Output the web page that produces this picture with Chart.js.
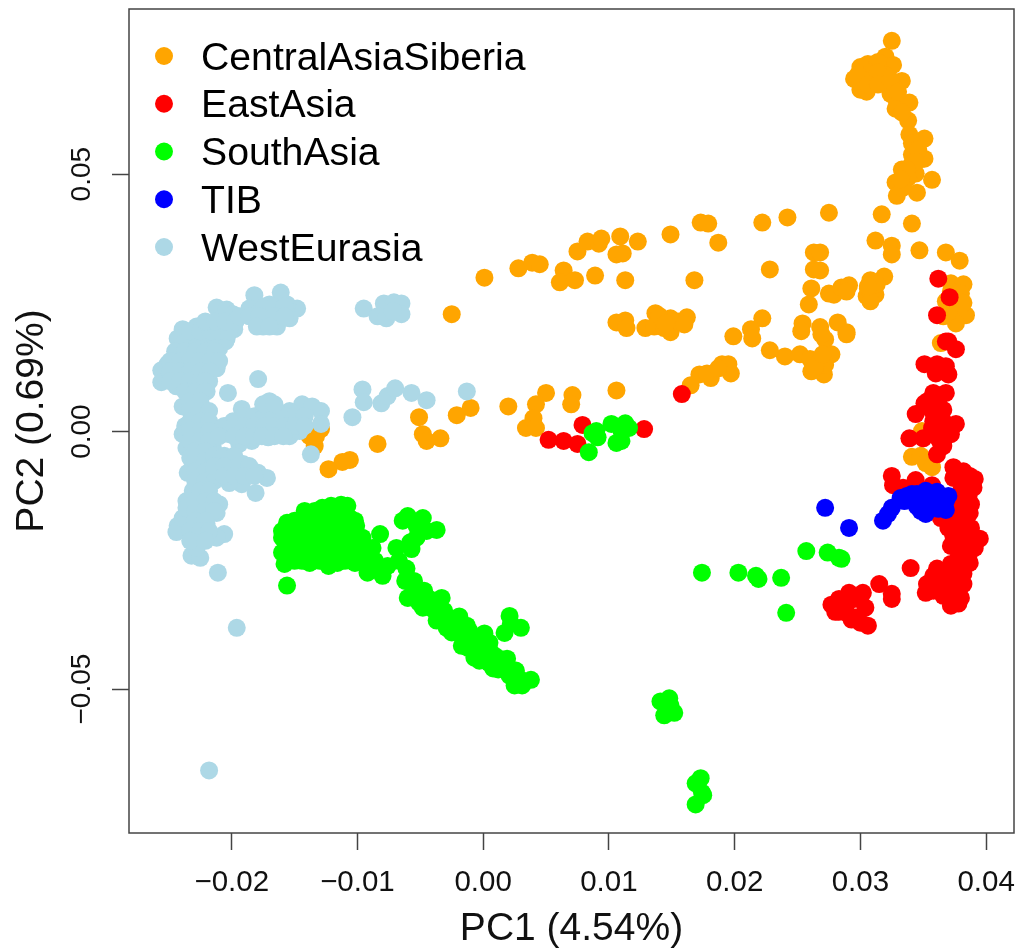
<!DOCTYPE html>
<html>
<head>
<meta charset="utf-8">
<style>
body { margin: 0; background: #fff; }
canvas { display: block; }
</style>
<script src="https://cdn.jsdelivr.net/npm/chart.js@4/dist/chart.umd.min.js"></script>
</head>
<body>
<canvas id="graph" width="1023" height="949"></canvas>
<script>
const groupNames = ['CentralAsiaSiberia', 'EastAsia', 'SouthAsia', 'TIB', 'WestEurasia'];
const groupColors = ['#FFA500', '#FF0000', '#00FF00', '#0000FF', '#ADD8E6'];

const xTicks = [-0.02, -0.01, 0, 0.01, 0.02, 0.03, 0.04];
const yTicks = [-0.05, 0, 0.05];

// [PC1, PC2]
const centralAsiaSiberia = [
  [.0325,.0759],[.0320,.0728],[.0326,.0712],[.0300,.0708],[.0306,.0714],[.0314,.0718],[.0295,.0685],[.0300,.0664],
  [.0305,.0660],[.0303,.0685],[.0312,.0693],[.0320,.0693],[.0333,.0681],[.0326,.0670],[.0324,.0656],[.0329,.0641],
  [.0339,.0639],[.0328,.0627],[.0338,.0604],[.0339,.0577],[.0351,.0569],[.0344,.0549],[.0341,.0538],[.0351,.0530],
  [.0341,.0520],[.0333,.0509],[.0344,.0501],[.0336,.0499],[.0328,.0484],[.0329,.0458],[.0345,.0464],[.0357,.0489],
  [.0275,.0425],[.0242,.0416],[.0317,.0422],[.0341,.0404],[.0312,.0371],[.0325,.0361],[.0325,.0344],[.0347,.0352],
  [.0368,.0348],[.0379,.0332],[.0263,.0348],[.0268,.0348],[.0263,.0315],[.0268,.0313],[.0261,.0278],[.0259,.0247],
  [.0254,.0210],[.0268,.0203],[.0282,.0212],[.0289,.0193],[.0275,.0268],[.0279,.0266],[.0285,.0280],[.0291,.0284],
  [.0289,.0272],[.0308,.0294],[.0319,.0301],[.0305,.0263],[.0312,.0266],[.0306,.0278],[.0313,.0286],[.0272,.0179],
  [.0372,.0288],[.0382,.0286],[.0380,.0268],[.0368,.0253],[.0376,.0239],[.0384,.0226],[.0376,.0210],[.0366,.0224],
  [.0364,.0172],[.0341,-.0049],[.0348,-.0047],[.0352,-.0061],[.0357,-.0069],[.0349,.0001],[.0240,.0146],[.0252,.0150],
  [.0260,.0141],[.0269,.0189],[.0277,.0150],[.0289,.0189],[.0261,.0117],[.0271,.0111],[.0267,.0133],[.0253,.0195],
  [.0001,.0299],[.0028,.0317],[.0039,.0328],[.0045,.0325],[.0064,.0313],[.0061,.0290],[.0073,.0294],[.0089,.0303],
  [.0113,.0294],[.0075,.0350],[.0083,.0369],[.0092,.0365],[.0094,.0375],[.0109,.0379],[.0106,.0344],[.0111,.0346],
  [.0123,.0369],[.0149,.0383],[.0173,.0406],[.0179,.0404],[.0187,.0367],[.0222,.0406],[.0228,.0315],[.0168,.0294],
  [.0106,.0212],[.0113,.0216],[.0114,.0201],[.0129,.0201],[.0137,.0230],[.0141,.0214],[.0136,.0204],[.0149,.0220],
  [.0149,.0193],[.0144,.0201],[.0155,.0214],[.0162,.0222],[.0160,.0208],[.0222,.0220],[.0213,.0199],[.0214,.0181],
  [.0199,.0185],[.0228,.0158],[.0190,.0131],[.0197,.0113],[.0195,.0131],[.0181,.0104],[.0172,.0111],[.0178,.0113],
  [.0187,.0123],[.0165,.0090],[.0106,.0080],[.0071,.0071],[.0070,.0053],[.0050,.0075],[.0042,.0053],[.0020,.0049],
  [.0040,.0026],[.0034,.0007],[.0042,.0007],[-.0025,.0228],[-.0051,.0028],[-.0048,-.0005],[-.0045,-.0018],[-.0034,-.0013],
  [-.0021,.0032],[-.0010,.0046],[-.0084,-.0024],[-.0106,-.0055],[-.0112,-.0059],[-.0123,-.0073],[-.0129,.0005],
  [-.0134,-.0028],[-.0138,-.0009],[-.0133,-.0009],
  [.0308,.0698],[.0314,.0698],[.0298,.0693],[.0306,.0674],[.0314,.0674],[.0324,.0683],[.0330,.0660],[.0333,.0620],
  [.0341,.0560],[.0348,.0529],[.0338,.0493],[.0334,.0474],[.0308,.0253],[.0306,.0282],[.0372,.0272],[.0376,.0255],
  [.0382,.0250],[.0370,.0232],[.0140,.0225],[.0145,.0210],[.0346,.0548],[.0344,.0524],[.0337,.0510],[.0332,.0490],
  [.0272,.0130],[.0264,.0125],[.0270,.0150]
];

const eastAsia = [
  [.0362,.0297],[.0371,.0261],[.0361,.0226],[.0368,.0175],[.0370,.0175],[.0376,.0160],[.0351,.0131],[.0361,.0131],
  [.0368,.0127],[.0360,.0113],[.0370,.0111],[.0358,.0075],[.0368,.0075],[.0351,.0055],[.0362,.0055],[.0366,.0042],
  [.0344,.0034],[.0357,.0040],[.0376,.0015],[.0357,.0007],[.0368,.0011],[.0339,-.0013],[.0350,-.0013],[.0362,-.0013],
  [.0372,-.0005],[.0364,-.0022],[.0361,-.0044],[.0325,-.0086],[.0344,-.0094],[.0326,-.0104],[.0357,-.0104],[.0334,-.0109],
  [.0374,-.0069],[.0374,-.0090],[.0387,-.0086],[.0391,-.0092],[.0390,-.0109],[.0380,-.0115],[.0388,-.0141],[.0372,-.0141],
  [.0380,-.0158],[.0387,-.0158],[.0368,-.0170],[.0378,-.0177],[.0370,-.0187],[.0388,-.0187],[.0395,-.0208],[.0380,-.0206],
  [.0391,-.0226],[.0380,-.0226],[.0387,-.0255],[.0378,-.0245],[.0372,-.0257],[.0361,-.0266],[.0370,-.0276],[.0382,-.0296],
  [.0353,-.0296],[.0352,-.0313],[.0362,-.0296],[.0372,-.0296],[.0380,-.0323],[.0372,-.0338],[.0378,-.0334],[.0368,-.0309],
  [.0340,-.0265],[.0386,-.0226],[.0364,-.0168],[.0376,-.0193],[.0384,-.0193],[.0315,-.0296],[.0325,-.0315],[.0325,-.0325],
  [.0302,-.0313],[.0291,-.0313],[.0283,-.0325],[.0277,-.0336],[.0280,-.0350],[.0288,-.0342],[.0304,-.0342],[.0293,-.0365],
  [.0300,-.0371],[.0306,-.0377],[.0289,-.0352],[.0052,-.0016],[.0064,-.0018],[.0075,-.0024],[.0079,.0013],[.0128,.0005],
  [.0158,.0073],
  [.0382,-.0077],[.0382,-.0096],[.0378,-.0135],[.0386,-.0125],[.0378,-.0164],[.0384,-.0173],[.0374,-.0203],[.0387,-.0212],
  [.0378,-.0222],[.0386,-.0241],[.0380,-.0261],[.0374,-.0280],[.0382,-.0276],[.0366,-.0280],[.0358,-.0280],[.0366,-.0319],
  [.0374,-.0319],[.0358,-.0309],[.0372,-.0222],[.0370,-.0154],[.0354,.0060],[.0362,.0070],[.0366,.0001],[.0366,-.0028],
  [.0358,.0020],[.0366,.0020],[.0285,-.0329],[.0295,-.0325],[.0283,-.0350],[.0296,-.0361]
];

const southAsia = [
  [-.0156,-.0177],[-.0142,-.0168],[-.0160,-.0193],[-.0128,-.0148],[-.0121,-.0144],[-.0113,-.0142],[-.0108,-.0144],
  [-.0148,-.0187],[-.0138,-.0179],[-.0128,-.0170],[-.0117,-.0168],[-.0106,-.0168],[-.0101,-.0183],[-.0160,-.0235],
  [-.0158,-.0257],[-.0148,-.0212],[-.0138,-.0212],[-.0138,-.0255],[-.0146,-.0235],[-.0132,-.0235],[-.0124,-.0237],
  [-.0123,-.0261],[-.0116,-.0255],[-.0160,-.0206],[-.0125,-.0193],[-.0114,-.0193],[-.0105,-.0212],[-.0096,-.0206],
  [-.0082,-.0199],[-.0088,-.0226],[-.0102,-.0255],[-.0098,-.0235],[-.0092,-.0274],[-.0080,-.0280],[-.0084,-.0265],
  [-.0069,-.0226],[-.0057,-.0228],[-.0067,-.0251],[-.0076,-.0261],[-.0061,-.0266],[-.0062,-.0290],[-.0156,-.0299],
  [-.0060,-.0164],[-.0064,-.0173],[-.0048,-.0168],[-.0053,-.0183],[-.0037,-.0191],[-.0045,-.0193],[-.0053,-.0206],
  [-.0055,-.0305],[-.0060,-.0323],[-.0044,-.0323],[-.0051,-.0332],[-.0033,-.0323],[-.0048,-.0342],[-.0037,-.0352],
  [-.0037,-.0367],[-.0029,-.0381],[-.0019,-.0359],[-.0013,-.0377],[-.0017,-.0396],[.0001,-.0392],[-.0006,-.0400],
  [.0005,-.0410],[-.0017,-.0416],[-.0007,-.0439],[-.0002,-.0420],[.0008,-.0460],[.0013,-.0441],[.0019,-.0441],
  [.0026,-.0464],[.0025,-.0493],[.0031,-.0493],[.0038,-.0482],[.0021,-.0358],[.0030,-.0381],[.0017,-.0391],[.0022,-.0373],
  [.0002,-.0445],[-.0023,-.0387],[.0090,.0001],[.0087,-.0003],[.0091,-.0011],[.0084,-.0040],[.0102,.0015],[.0113,.0016],
  [.0110,.0001],[.0116,.0007],[.0106,-.0022],[.0110,-.0018],[.0257,-.0232],[.0274,-.0235],[.0283,-.0245],[.0285,-.0247],
  [.0174,-.0274],[.0203,-.0274],[.0217,-.0280],[.0219,-.0286],[.0237,-.0284],[.0241,-.0352],[.0141,-.0524],[.0148,-.0518],
  [.0149,-.0532],[.0152,-.0546],[.0144,-.0551],[.0173,-.0673],[.0169,-.0683],[.0174,-.0701],[.0169,-.0724],[.0175,-.0706],
  [-.0142,-.0154],[-.0134,-.0154],[-.0126,-.0154],[-.0118,-.0154],[-.0110,-.0154],[-.0150,-.0173],[-.0134,-.0173],
  [-.0122,-.0173],[-.0110,-.0173],[-.0102,-.0173],[-.0154,-.0193],[-.0142,-.0193],[-.0134,-.0193],[-.0106,-.0193],
  [-.0158,-.0212],[-.0130,-.0212],[-.0122,-.0212],[-.0110,-.0212],[-.0154,-.0232],[-.0138,-.0232],[-.0130,-.0232],
  [-.0114,-.0232],[-.0106,-.0232],[-.0094,-.0232],[-.0150,-.0251],[-.0144,-.0251],[-.0130,-.0251],[-.0110,-.0251],
  [-.0094,-.0251],[-.0086,-.0251],[-.0055,-.0290],[-.0047,-.0309],[-.0039,-.0329],[-.0031,-.0348],[-.0043,-.0339],
  [-.0027,-.0367],[-.0011,-.0406],[-.0003,-.0406],[-.0011,-.0387],[.0005,-.0425],[-.0003,-.0445],[.0009,-.0435],
  [.0017,-.0455],[.0021,-.0474],[.0029,-.0480],[-.0058,-.0215],[-.0050,-.0320],[-.0040,-.0345],[-.0025,-.0390],
  [-.0012,-.0420],[.0005,-.0450],[.0012,-.0462]
];

const tib = [
  [.0272,-.0148],[.0291,-.0187],[.0318,-.0173],[.0322,-.0160],[.0325,-.0148],[.0332,-.0129],[.0341,-.0121],[.0352,-.0115],
  [.0361,-.0117],[.0370,-.0125],[.0348,-.0154],[.0368,-.0152],[.0346,-.0135],[.0354,-.0135],[.0364,-.0141],[.0360,-.0129],
  [.0345,-.0121],[.0335,-.0135],[.0345,-.0145],[.0355,-.0145],[.0360,-.0145],[.0368,-.0135],[.0356,-.0120],[.0350,-.0121],
  [.0337,-.0125],[.0352,-.0160],[.0362,-.0150]
];

const westEurasia = [
  [-.0182,.0265],[-.0161,.0270],[-.0212,.0241],[-.0204,.0237],[-.0186,.0239],[-.0175,.0204],[-.0164,.0204],[-.0148,.0239],
  [-.0154,.0220],[-.0170,.0247],[-.0156,.0247],[-.0170,.0228],[-.0180,.0228],[-.0162,.0228],[-.0199,.0228],[-.0198,.0199],
  [-.0239,.0199],[-.0228,.0204],[-.0243,.0181],[-.0215,.0208],[-.0218,.0189],[-.0204,.0181],[-.0228,.0181],[-.0239,.0160],
  [-.0223,.0156],[-.0210,.0162],[-.0251,.0131],[-.0256,.0119],[-.0256,.0096],[-.0244,.0088],[-.0212,.0123],[-.0218,.0098],
  [-.0231,.0123],[-.0241,.0123],[-.0228,.0098],[-.0220,.0078],[-.0236,.0092],[-.0220,.0141],[-.0231,.0150],[-.0239,.0049],
  [-.0231,.0055],[-.0223,.0040],[-.0229,.0026],[-.0237,.0011],[-.0239,-.0005],[-.0236,-.0032],[-.0233,-.0051],[-.0235,-.0080],
  [-.0228,-.0013],[-.0224,-.0038],[-.0225,-.0077],[-.0218,-.0090],[-.0236,-.0135],[-.0231,-.0115],[-.0210,-.0141],
  [-.0212,-.0158],[-.0223,-.0141],[-.0236,-.0164],[-.0243,-.0183],[-.0244,-.0195],[-.0239,-.0168],[-.0206,-.0199],
  [-.0212,-.0206],[-.0232,-.0241],[-.0225,-.0245],[-.0211,-.0274],[-.0196,-.0381],[-.0218,-.0658],[-.0228,-.0212],
  [-.0231,-.0179],[-.0220,-.0179],[-.0236,-.0148],[-.0228,-.0226],[-.0203,.0075],[-.0179,.0102],[-.0192,.0044],
  [-.0170,.0059],[-.0175,.0053],[-.0144,.0053],[-.0136,.0049],[-.0129,.0040],[-.0129,.0015],[-.0154,.0040],[-.0162,.0034],
  [-.0186,.0026],[-.0199,.0020],[-.0211,.0001],[-.0202,-.0005],[-.0188,-.0005],[-.0171,-.0011],[-.0154,-.0009],[-.0146,.0001],
  [-.0184,-.0018],[-.0194,-.0024],[-.0215,-.0032],[-.0175,.0015],[-.0162,.0007],[-.0146,.0026],[-.0137,-.0044],[-.0191,-.0063],
  [-.0179,-.0080],[-.0172,-.0090],[-.0181,-.0119],[-.0192,-.0102],[-.0202,-.0100],[-.0202,-.0071],[-.0210,-.0082],
  [-.0095,.0239],[-.0079,.0249],[-.0071,.0251],[-.0065,.0249],[-.0065,.0228],[-.0084,.0224],[-.0077,.0220],[-.0072,.0234],
  [-.0096,.0082],[-.0095,.0057],[-.0104,.0028],[-.0081,.0055],[-.0076,.0069],[-.0070,.0084],[-.0057,.0075],[-.0045,.0061],
  [-.0013,.0078],
  [-.0237,.0175],[-.0229,.0175],[-.0221,.0175],[-.0213,.0175],[-.0205,.0175],[-.0245,.0156],[-.0237,.0156],[-.0229,.0156],
  [-.0221,.0156],[-.0213,.0156],[-.0249,.0137],[-.0241,.0137],[-.0233,.0137],[-.0225,.0137],[-.0217,.0137],[-.0210,.0137],
  [-.0249,.0117],[-.0241,.0117],[-.0233,.0117],[-.0225,.0117],[-.0217,.0117],[-.0249,.0098],[-.0241,.0098],[-.0233,.0098],
  [-.0225,.0098],[-.0221,.0098],[-.0237,.0078],[-.0229,.0078],[-.0221,.0078],[-.0233,.0195],[-.0225,.0195],[-.0217,.0195],
  [-.0210,.0195],[-.0202,.0195],[-.0221,.0214],[-.0213,.0214],[-.0205,.0214],[-.0197,.0214],[-.0233,.0059],[-.0225,.0059],
  [-.0233,.0040],[-.0225,.0040],[-.0218,.0040],[-.0233,.0020],[-.0225,.0020],[-.0218,.0020],[-.0233,.0001],[-.0225,.0001],
  [-.0218,.0001],[-.0233,-.0018],[-.0225,-.0018],[-.0218,-.0018],[-.0229,-.0038],[-.0221,-.0038],[-.0229,-.0057],
  [-.0221,-.0057],[-.0214,-.0057],[-.0229,-.0077],[-.0221,-.0077],[-.0214,-.0077],[-.0229,-.0096],[-.0221,-.0096],
  [-.0214,-.0096],[-.0225,-.0115],[-.0218,-.0115],[-.0229,-.0135],[-.0221,-.0135],[-.0214,-.0135],[-.0229,-.0154],
  [-.0221,-.0154],[-.0214,-.0154],[-.0229,-.0173],[-.0221,-.0173],[-.0233,-.0193],[-.0225,-.0193],[-.0218,-.0193],
  [-.0233,-.0212],[-.0221,-.0212],[-.0190,.0030],[-.0182,.0030],[-.0174,.0030],[-.0166,.0030],[-.0158,.0030],[-.0150,.0030],
  [-.0142,.0030],[-.0206,.0011],[-.0198,.0011],[-.0190,.0011],[-.0182,.0011],[-.0174,.0011],[-.0166,.0011],[-.0158,.0011],
  [-.0150,.0011],[-.0142,.0011],[-.0210,-.0009],[-.0198,-.0009],[-.0190,-.0009],[-.0182,-.0009],[-.0176,-.0009],
  [-.0166,-.0009],[-.0159,-.0009],[-.0174,.0053],[-.0166,.0053],[-.0214,-.0047],[-.0206,-.0047],[-.0198,-.0047],
  [-.0214,-.0067],[-.0206,-.0067],[-.0194,-.0067],[-.0186,-.0067],[-.0206,-.0086],[-.0198,-.0086],[-.0190,-.0086],
  [-.0182,-.0086],[-.0174,.0243],[-.0166,.0243],[-.0158,.0243],[-.0194,.0224],[-.0186,.0224],[-.0178,.0224],[-.0166,.0224],
  [-.0158,.0224],[-.0180,.0204],[-.0170,.0204]
];

const groups = [centralAsiaSiberia, eastAsia, southAsia, tib, westEurasia];

function tickText(v) {
  return (v < 0 ? '\u2212' : '') + Math.abs(v).toFixed(2);
}

// legend sits inside the plot, top left, R style
const insideLegend = {
  id: 'insideLegend',
  afterDraw(chart) {
    const c = chart.ctx;
    c.save();
    c.font = '39.2px "Liberation Sans"';
    c.textBaseline = 'alphabetic';
    groupNames.forEach((name, i) => {
      const y = 56 + i * 47.75;
      c.fillStyle = groupColors[i];
      c.beginPath();
      c.arc(164, y, 9, 0, Math.PI * 2);
      c.fill();
      c.fillStyle = '#000';
      c.fillText(name, 201, y + 13.5);
    });
    c.restore();
  }
};

const plotBox = {
  id: 'plotBox',
  afterDraw(chart) {
    const a = chart.chartArea;
    const c = chart.ctx;
    c.save();
    c.strokeStyle = '#444';
    c.lineWidth = 1.5;
    c.strokeRect(a.left, a.top, a.right - a.left, a.bottom - a.top);
    c.restore();
  }
};

function noScalePadding(s) {
  s.paddingTop = 0;
  s.paddingBottom = 0;
  s.paddingLeft = 0;
  s.paddingRight = 0;
}

const ctx = document.getElementById('graph').getContext('2d');

new Chart(ctx, {
  type: 'scatter',
  data: {
    datasets: groups.map((g, i) => ({
      label: groupNames[i],
      data: g.map(p => ({ x: p[0], y: p[1] })),
      backgroundColor: groupColors[i],
      pointRadius: 9,
      pointBorderWidth: 0,
      order: groups.length - i
    }))
  },
  options: {
    responsive: false,
    animation: false,
    layout: { padding: { top: 7, right: 7 } },
    plugins: { legend: { display: false }, tooltip: { enabled: false } },
    scales: {
      x: {
        type: 'linear',
        min: -0.02817,
        max: 0.04222,
        afterBuildTicks(s) { s.ticks = xTicks.map(v => ({ value: v })); },
        afterFit(s) { s.height = 116; noScalePadding(s); },
        grid: { drawOnChartArea: false, tickLength: 17, tickColor: '#444', tickWidth: 1.5 },
        border: { display: false },
        ticks: {
          color: '#111',
          font: { family: 'Liberation Sans', size: 29.5 },
          maxRotation: 0,
          padding: 15,
          autoSkip: false,
          callback: tickText
        },
        title: {
          display: true,
          text: 'PC1 (4.54%)',
          color: '#111',
          font: { family: 'Liberation Sans', size: 39 },
          padding: { top: 0, bottom: -4 }
        }
      },
      y: {
        type: 'linear',
        min: -0.07795,
        max: 0.08207,
        afterBuildTicks(s) { s.ticks = yTicks.map(v => ({ value: v })); },
        afterFit(s) { s.width = 129; noScalePadding(s); },
        grid: { drawOnChartArea: false, tickLength: 17, tickColor: '#444', tickWidth: 1.5 },
        border: { display: false },
        ticks: {
          color: '#111',
          font: { family: 'Liberation Sans', size: 28 },
          minRotation: 90,
          maxRotation: 90,
          crossAlign: 'center',
          padding: -6,
          autoSkip: false,
          callback: tickText
        },
        title: {
          display: true,
          text: 'PC2 (0.69%)',
          color: '#111',
          font: { family: 'Liberation Sans', size: 39 },
          padding: { top: 9, bottom: 0 }
        }
      }
    }
  },
  plugins: [plotBox, insideLegend]
});
</script>
</body>
</html>
